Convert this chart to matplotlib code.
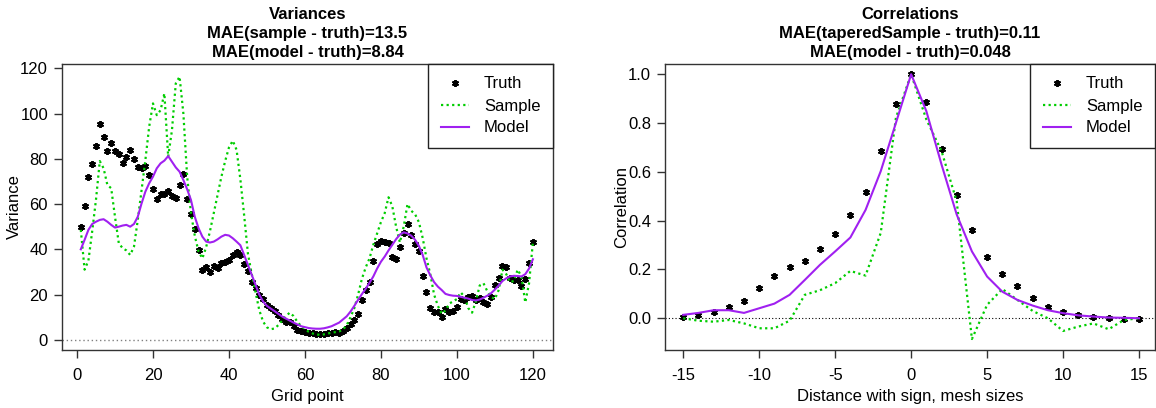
import numpy as np
import matplotlib
matplotlib.use("Agg")
import matplotlib.pyplot as plt

plt.rcParams['font.family'] = ['Liberation Sans', 'DejaVu Sans']
plt.rcParams['font.size'] = 12
plt.rcParams['axes.unicode_minus'] = False

# ---- left panel: variances at grid points 1..120
grid = np.arange(1, 121)

var_truth = [
    50.0, 59.2, 71.8, 77.6, 85.8, 95.5, 89.6, 83.6, 87.0, 83.3,
    82.3, 78.0, 80.8, 83.7, 79.8, 76.4, 75.9, 76.8, 73.0, 66.8,
    62.1, 64.5, 64.6, 65.9, 63.6, 62.7, 68.6, 73.4, 62.4, 55.5,
    48.9, 39.7, 30.9, 32.1, 29.9, 32.7, 31.6, 34.1, 34.3, 35.3,
    37.5, 38.7, 37.4, 33.6, 30.5, 25.6, 23.0, 20.0, 18.1, 15.3,
    14.1, 12.7, 10.9, 9.1, 7.9, 7.8, 6.3, 4.4, 4.1, 3.5,
    3.2, 2.9, 2.6, 2.6, 2.6, 2.9, 3.2, 3.5, 3.2, 3.8,
    5.4, 6.9, 8.8, 11.3, 17.5, 22.1, 25.5, 34.7, 42.2, 43.7,
    43.4, 42.7, 36.8, 35.8, 40.9, 47.0, 51.2, 46.4, 42.4, 39.3,
    28.4, 21.1, 14.1, 12.1, 12.1, 10.3, 13.5, 12.5, 12.6, 14.7,
    18.0, 17.7, 19.1, 19.4, 17.7, 18.5, 16.5, 16.0, 18.8, 24.1,
    27.5, 32.7, 32.1, 27.2, 26.5, 26.5, 23.8, 27.1, 34.1, 43.1,
]

var_sample = [
    48.6, 31.0, 35.0, 48.0, 62.0, 79.0, 75.8, 68.4, 67.0, 54.4,
    42.7, 40.5, 39.5, 37.5, 41.2, 53.0, 66.2, 79.5, 94.2, 104.5,
    99.3, 101.5, 108.9, 80.9, 92.7, 113.3, 116.3, 100.0, 72.0, 56.0,
    46.0, 39.0, 36.0, 41.0, 48.0, 56.0, 64.0, 72.0, 79.0, 85.0,
    88.0, 84.0, 71.0, 55.0, 38.0, 29.0, 21.0, 13.0, 8.0, 5.5,
    4.7, 5.0, 6.5, 8.5, 10.5, 12.0, 10.5, 8.0, 6.0, 5.0,
    3.5, 2.8, 2.4, 2.2, 2.4, 2.8, 3.1, 3.4, 3.7, 4.5,
    6.5, 10.0, 14.0, 20.0, 27.0, 32.0, 36.0, 42.0, 47.0, 52.0,
    56.0, 63.0, 59.0, 50.0, 43.0, 50.0, 60.0, 57.0, 55.5, 52.0,
    45.0, 36.0, 29.0, 20.0, 15.0, 11.5, 13.0, 16.0, 17.0, 18.0,
    21.0, 19.0, 14.0, 12.0, 17.0, 24.0, 25.0, 21.5, 19.0, 18.0,
    22.0, 31.0, 29.0, 25.5, 26.0, 31.0, 28.0, 16.5, 25.0, 43.0,
]

var_model = [
    40.0, 44.2, 48.6, 51.2, 52.2, 53.0, 53.3, 52.2, 50.8, 49.6,
    50.0, 50.5, 50.8, 50.0, 51.2, 54.4, 60.3, 65.5, 69.2, 72.1,
    75.8, 78.0, 79.2, 81.2, 78.7, 76.2, 74.3, 70.6, 66.5, 61.8,
    54.4, 49.3, 45.6, 43.4, 43.0, 43.4, 44.4, 45.6, 46.4, 46.1,
    44.9, 43.4, 41.8, 37.5, 33.1, 28.7, 24.3, 19.9, 16.9, 15.0,
    13.8, 12.7, 11.5, 10.3, 9.4, 8.5, 7.6, 6.8, 6.0, 5.6,
    5.2, 5.0, 4.9, 4.9, 5.1, 5.5, 6.0, 6.8, 7.6, 9.0,
    10.4, 12.5, 15.0, 17.7, 20.2, 22.6, 25.2, 28.0, 31.5, 34.5,
    36.8, 39.5, 42.0, 44.5, 46.5, 47.5, 47.0, 46.0, 44.2, 41.5,
    37.5, 32.0, 28.5, 25.5, 23.5, 22.0, 20.3, 19.8, 19.5, 19.4,
    19.0, 18.6, 18.2, 17.6, 17.4, 17.8, 18.6, 19.5, 20.6, 22.2,
    24.0, 26.0, 27.2, 28.0, 28.3, 28.2, 28.0, 29.0, 31.5, 35.6,
]

# ---- right panel: correlations vs signed distance
dist = np.arange(-15, 16)

cor_truth = [
    0.007, 0.014, 0.027, 0.048, 0.072, 0.126, 0.174, 0.211, 0.236, 0.282,
    0.346, 0.422, 0.519, 0.686, 0.880, 1.000, 0.886, 0.693, 0.507, 0.360,
    0.252, 0.183, 0.133, 0.085, 0.045, 0.025, 0.014, 0.004, 0.000, -0.002,
    -0.002,
]

cor_sample = [
    0.000, -0.010, -0.014, -0.007, -0.021, -0.041, -0.041, -0.010, 0.096, 0.115,
    0.144, 0.194, 0.175, 0.350, 0.822, 1.000, 0.815, 0.685, 0.479, -0.085,
    0.055, 0.120, 0.075, 0.030, 0.000, -0.052, -0.034, -0.021, -0.045, -0.007,
    0.000,
]

cor_model = [
    0.014, 0.022, 0.033, 0.033, 0.022, 0.041, 0.060, 0.096, 0.157, 0.219,
    0.274, 0.331, 0.444, 0.603, 0.801, 1.000, 0.849, 0.630, 0.425, 0.274,
    0.171, 0.109, 0.075, 0.052, 0.033, 0.021, 0.012, 0.007, 0.003, 0.002,
    0.000,
]

green = "#00CD00"
purple = "#A020F0"
star = (6, 2, 0)
dots = (0, (1.0, 1.5))

fig = plt.figure(figsize=(11.56, 4.08), dpi=100)
W, H = 1156, 408
ax1 = fig.add_axes([62 / W, 1 - 350 / H, 491 / W, 286 / H])
ax2 = fig.add_axes([665 / W, 1 - 350 / H, 490 / W, 286 / H])


def style(ax):
    for s in ax.spines.values():
        s.set_color("#333333")
        s.set_linewidth(1.0)
    ax.tick_params(direction="out", length=6, width=1.0, color="#333333",
                   labelsize=12)
    ax.tick_params(axis="x", pad=7)
    ax.tick_params(axis="y", pad=4)


def legend(ax):
    leg = ax.legend(loc="upper right", borderaxespad=0, fancybox=False,
                    framealpha=1, edgecolor="#222222", fontsize=12,
                    handlelength=1.7, handletextpad=0.9, labelspacing=0.42,
                    borderpad=0.75)
    leg.get_frame().set_linewidth(1.0)


# variances
ax1.axhline(0, color="gray", ls=(0, (1, 2)), lw=1)
ax1.plot(grid, var_truth, ls="none", marker=star, ms=5, mew=1.4,
         color="black", label="Truth")
ax1.plot(grid, var_sample, color=green, ls=dots, lw=1.6, label="Sample")
ax1.plot(grid, var_model, color=purple, lw=1.5, label="Model")
ax1.set_xlim(-3.95, 125.3)
ax1.set_ylim(-4.5, 121.9)
ax1.set_xticks(np.arange(0, 121, 20))
ax1.set_yticks(np.arange(0, 121, 20))
ax1.set_xlabel("Grid point")
ax1.set_ylabel("Variance")
ax1.yaxis.set_label_coords(-0.081, 0.5)
ax1.set_title("Variances\nMAE(sample - truth)=13.5\nMAE(model - truth)=8.84",
              fontweight="bold", fontsize=12, linespacing=1.35, pad=5)
style(ax1)
legend(ax1)

# correlations
ax2.axhline(0, color="black", ls=(0, (1, 2)), lw=0.8)
ax2.plot(dist, cor_truth, ls="none", marker=star, ms=5, mew=1.4,
         color="black", label="Truth")
ax2.plot(dist, cor_sample, color=green, ls=dots, lw=1.6, label="Sample")
ax2.plot(dist, cor_model, color=purple, lw=1.5, label="Model")
ax2.set_xlim(-16.2, 16.05)
ax2.set_ylim(-0.130, 1.042)
ax2.set_xticks(np.arange(-15, 16, 5))
ax2.set_yticks(np.arange(0, 1.01, 0.2))
ax2.set_yticklabels([f"{v:.1f}" for v in np.arange(0, 1.01, 0.2)])
ax2.set_xlabel("Distance with sign, mesh sizes")
ax2.set_ylabel("Correlation")
ax2.yaxis.set_label_coords(-0.073, 0.5)
ax2.set_title("Correlations\nMAE(taperedSample - truth)=0.11\nMAE(model - truth)=0.048",
              fontweight="bold", fontsize=12, linespacing=1.35, pad=5)
style(ax2)
legend(ax2)

fig.savefig("out.png", dpi=100)
